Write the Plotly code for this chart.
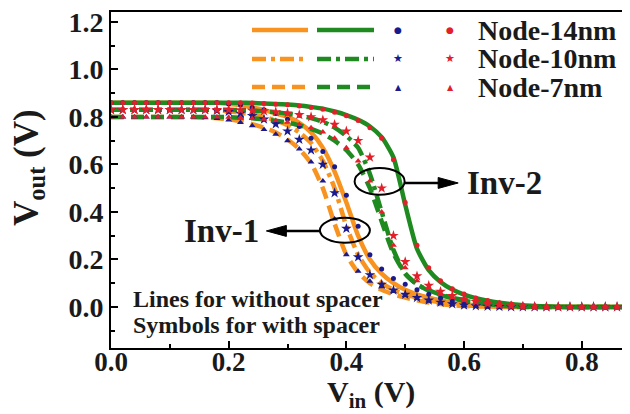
import plotly.graph_objects as go

# ---------------- data ----------------
VIN = [0.00, 0.02, 0.04, 0.06, 0.08, 0.10, 0.12, 0.14, 0.16, 0.18,
       0.20, 0.22, 0.24, 0.26, 0.28, 0.30, 0.32, 0.34, 0.36, 0.38,
       0.40, 0.42, 0.44, 0.46, 0.48, 0.50, 0.52, 0.54, 0.56, 0.58,
       0.60, 0.62, 0.64, 0.66, 0.68, 0.70, 0.72, 0.74, 0.76, 0.78,
       0.80, 0.82, 0.84, 0.86, 0.88]

# Inv-1, lines (without spacer)
inv1_14nm_line = [0.86, 0.86, 0.86, 0.86, 0.86, 0.86, 0.86, 0.86, 0.86, 0.86,
                  0.855, 0.85, 0.84, 0.83, 0.815, 0.80, 0.775, 0.735, 0.67, 0.57,
                  0.44, 0.30, 0.20, 0.14, 0.10, 0.072, 0.053, 0.039, 0.028, 0.019,
                  0.012, 0.007, 0.004, 0.002, 0.001, 0, 0, 0, 0, 0,
                  0, 0, 0, 0, 0]
inv1_10nm_line = [0.83, 0.83, 0.83, 0.83, 0.83, 0.83, 0.83, 0.83, 0.83, 0.828,
                  0.824, 0.818, 0.81, 0.80, 0.785, 0.765, 0.735, 0.69, 0.615, 0.50,
                  0.34, 0.22, 0.145, 0.10, 0.072, 0.053, 0.039, 0.028, 0.019, 0.012,
                  0.007, 0.004, 0.002, 0.001, 0, 0, 0, 0, 0, 0,
                  0, 0, 0, 0, 0]
inv1_7nm_line = [0.80, 0.80, 0.80, 0.80, 0.80, 0.80, 0.80, 0.80, 0.798, 0.795,
                 0.79, 0.782, 0.77, 0.755, 0.735, 0.705, 0.665, 0.605, 0.50, 0.35,
                 0.22, 0.145, 0.10, 0.072, 0.053, 0.039, 0.028, 0.019, 0.012, 0.007,
                 0.004, 0.002, 0.001, 0, 0, 0, 0, 0, 0, 0,
                 0, 0, 0, 0, 0]
# Inv-1, symbols (with spacer)
inv1_14nm_sym = [0.86, 0.86, 0.86, 0.86, 0.86, 0.86, 0.86, 0.86, 0.86, 0.86,
                 0.855, 0.85, 0.84, 0.83, 0.815, 0.79, 0.76, 0.71, 0.655, 0.59,
                 0.47, 0.34, 0.22, 0.16, 0.12, 0.095, 0.072, 0.053, 0.037, 0.025,
                 0.016, 0.009, 0.005, 0.002, 0.001, 0, 0, 0, 0, 0,
                 0, 0, 0, 0, 0]
inv1_10nm_sym = [0.83, 0.83, 0.83, 0.83, 0.83, 0.83, 0.83, 0.83, 0.83, 0.827,
                 0.822, 0.815, 0.805, 0.79, 0.77, 0.74, 0.705, 0.66, 0.60, 0.48,
                 0.33, 0.21, 0.135, 0.095, 0.07, 0.052, 0.039, 0.028, 0.019, 0.012,
                 0.007, 0.004, 0.002, 0.001, 0, 0, 0, 0, 0, 0,
                 0, 0, 0, 0, 0]
inv1_7nm_sym = [0.80, 0.80, 0.80, 0.80, 0.80, 0.80, 0.80, 0.80, 0.797, 0.793,
                0.787, 0.777, 0.763, 0.747, 0.727, 0.70, 0.665, 0.61, 0.53, 0.37,
                0.22, 0.15, 0.108, 0.085, 0.065, 0.048, 0.035, 0.025, 0.017, 0.011,
                0.006, 0.003, 0.001, 0, 0, 0, 0, 0, 0, 0,
                0, 0, 0, 0, 0]
# Inv-2, lines (without spacer)
inv2_14nm_line = [0.86, 0.86, 0.86, 0.86, 0.86, 0.86, 0.86, 0.86, 0.86, 0.86,
                  0.86, 0.86, 0.859, 0.857, 0.855, 0.852, 0.848, 0.842, 0.835, 0.823,
                  0.808, 0.788, 0.76, 0.715, 0.63, 0.43, 0.245, 0.155, 0.105, 0.073,
                  0.052, 0.037, 0.026, 0.018, 0.012, 0.007, 0.004, 0.002, 0.001, 0,
                  0, 0, 0, 0, 0]
inv2_10nm_line = [0.83, 0.83, 0.83, 0.83, 0.83, 0.83, 0.83, 0.83, 0.83, 0.83,
                  0.83, 0.829, 0.827, 0.824, 0.82, 0.814, 0.806, 0.795, 0.78, 0.755,
                  0.72, 0.67, 0.56, 0.40, 0.24, 0.14, 0.095, 0.07, 0.052, 0.039,
                  0.028, 0.019, 0.012, 0.007, 0.004, 0.002, 0.001, 0, 0, 0,
                  0, 0, 0, 0, 0]
inv2_7nm_line = [0.80, 0.80, 0.80, 0.80, 0.80, 0.80, 0.80, 0.80, 0.80, 0.80,
                 0.799, 0.797, 0.794, 0.79, 0.784, 0.776, 0.765, 0.75, 0.73, 0.70,
                 0.66, 0.60, 0.50, 0.36, 0.225, 0.14, 0.095, 0.068, 0.05, 0.037,
                 0.026, 0.018, 0.011, 0.006, 0.003, 0.001, 0, 0, 0, 0,
                 0, 0, 0, 0, 0]
# Inv-2, symbols (with spacer)
inv2_14nm_sym = [0.86, 0.86, 0.86, 0.86, 0.86, 0.86, 0.86, 0.86, 0.86, 0.86,
                 0.86, 0.86, 0.859, 0.857, 0.854, 0.851, 0.846, 0.84, 0.832, 0.82,
                 0.805, 0.785, 0.755, 0.71, 0.62, 0.44, 0.26, 0.165, 0.11, 0.076,
                 0.054, 0.038, 0.027, 0.018, 0.012, 0.007, 0.004, 0.002, 0.001, 0,
                 0, 0, 0, 0, 0]
inv2_10nm_sym = [0.83, 0.83, 0.83, 0.83, 0.83, 0.83, 0.83, 0.83, 0.83, 0.83,
                 0.83, 0.829, 0.827, 0.825, 0.821, 0.816, 0.809, 0.80, 0.787, 0.768,
                 0.74, 0.70, 0.63, 0.50, 0.30, 0.19, 0.13, 0.09, 0.065, 0.047,
                 0.033, 0.022, 0.014, 0.008, 0.004, 0.002, 0.001, 0, 0, 0,
                 0, 0, 0, 0, 0]
inv2_7nm_sym = [0.80, 0.80, 0.80, 0.80, 0.80, 0.80, 0.80, 0.80, 0.80, 0.80,
                0.799, 0.797, 0.794, 0.79, 0.785, 0.778, 0.768, 0.755, 0.737, 0.71,
                0.67, 0.615, 0.53, 0.40, 0.26, 0.165, 0.11, 0.078, 0.056, 0.04,
                0.028, 0.019, 0.012, 0.007, 0.003, 0.001, 0, 0, 0, 0,
                0, 0, 0, 0, 0]

NODES = ["Node-14nm", "Node-10nm", "Node-7nm"]
X_TICKS = [0.0, 0.2, 0.4, 0.6, 0.8]
Y_TICKS = [0.0, 0.2, 0.4, 0.6, 0.8, 1.0, 1.2]

# ---------------- style ----------------
ORANGE = "#f7931e"
GREEN = "#1f8a1f"
BLUE = "#1a1a8c"
RED = "#e3202a"
INK = "#1a1a1a"
FONT = "Liberation Serif, Times New Roman, serif"
DASHES = {"solid": "solid", "dashdot": "14px,5px,4px,5px", "dash": "13px,7px"}
LW = 4.5

fig = go.Figure()

line_sets = [
    (inv1_14nm_line, ORANGE, "solid"), (inv1_10nm_line, ORANGE, "dashdot"), (inv1_7nm_line, ORANGE, "dash"),
    (inv2_14nm_line, GREEN, "solid"), (inv2_10nm_line, GREEN, "dashdot"), (inv2_7nm_line, GREEN, "dash"),
]
for ys, col, d in line_sets:
    fig.add_trace(go.Scatter(x=VIN, y=ys, mode="lines",
                             line=dict(color=col, width=LW, dash=DASHES[d], shape="spline", smoothing=0.6),
                             showlegend=False, hoverinfo="skip"))

sym_sets = [
    (inv1_14nm_sym, BLUE, "circle", 5), (inv1_10nm_sym, BLUE, "star", 8), (inv1_7nm_sym, BLUE, "triangle-up", 6),
    (inv2_14nm_sym, RED, "circle", 5), (inv2_10nm_sym, RED, "star", 8), (inv2_7nm_sym, RED, "triangle-up", 6),
]
for ys, col, sym, sz in sym_sets:
    fig.add_trace(go.Scatter(x=VIN, y=ys, mode="markers",
                             marker=dict(color=col, symbol=sym, size=sz, line=dict(width=0)),
                             showlegend=False, hoverinfo="skip"))

shapes = []
annotations = []

# The page body has an 8px margin; the figure is sized to fill the rest of the window.
OFF = 8
FW, FH = 630 - OFF, 414 - OFF
# plot-area edges in window pixels
PL, PT, PR, PB = 111, 12, 630, 348

def px(x):
    return (x - PL) / (PR - PL)
def py(y):
    return (PB - y) / (PB - PT)

# custom legend
rows_y = [30, 59, 87]
dash_keys = ["solid", "dashdot", "dash"]
leg_syms = ["●", "★", "▲"]
leg_sizes = [9, 11, 8]
for i, name in enumerate(NODES):
    yy = py(rows_y[i])
    for (xa, xb, col) in [(252, 308, ORANGE), (317, 374, GREEN)]:
        shapes.append(dict(type="line", xref="paper", yref="paper", x0=px(xa), x1=px(xb), y0=yy, y1=yy,
                           line=dict(color=col, width=LW, dash=DASHES[dash_keys[i]])))
    for xc, col in [(398, BLUE), (450, RED)]:
        annotations.append(dict(x=px(xc), y=yy, xref="paper", yref="paper", text=leg_syms[i], showarrow=False,
                                font=dict(color=col, size=leg_sizes[i], family="DejaVu Sans"),
                                xanchor="center", yanchor="middle"))
    annotations.append(dict(x=px(476), y=yy, xref="paper", yref="paper", text="<b>%s</b>" % name,
                            showarrow=False, font=dict(size=28, color=INK, family=FONT),
                            xanchor="left", yanchor="middle"))

# ellipses
shapes.append(dict(type="circle", xref="x", yref="y", x0=0.414, x1=0.499, y0=0.472, y1=0.585,
                   line=dict(color="black", width=2)))
shapes.append(dict(type="circle", xref="x", yref="y", x0=0.355, x1=0.440, y0=0.270, y1=0.375,
                   line=dict(color="black", width=2)))
# arrows (shaft + head)
shapes.append(dict(type="line", xref="x", yref="y", x0=0.499, x1=0.560, y0=0.522, y1=0.522,
                   line=dict(color="black", width=2.5)))
shapes.append(dict(type="path", xref="x", yref="y", path="M 0.556 0.545 L 0.590 0.522 L 0.556 0.499 Z",
                   fillcolor="black", line=dict(color="black", width=1)))
shapes.append(dict(type="line", xref="x", yref="y", x0=0.355, x1=0.294, y0=0.32, y1=0.32,
                   line=dict(color="black", width=2.5)))
shapes.append(dict(type="path", xref="x", yref="y", path="M 0.298 0.343 L 0.264 0.32 L 0.298 0.297 Z",
                   fillcolor="black", line=dict(color="black", width=1)))

annotations.append(dict(x=0.668, y=0.522, xref="x", yref="y", text="<b>Inv-2</b>", showarrow=False,
                        font=dict(size=33, color=INK, family=FONT), xanchor="center", yanchor="middle"))
annotations.append(dict(x=0.187, y=0.32, xref="x", yref="y", text="<b>Inv-1</b>", showarrow=False,
                        font=dict(size=33, color=INK, family=FONT), xanchor="center", yanchor="middle"))
annotations.append(dict(x=px(131), y=py(299), xref="paper", yref="paper", text="<b>Lines for without spacer</b>",
                        showarrow=False, font=dict(size=24, color=INK, family=FONT), xanchor="left", yanchor="middle"))
annotations.append(dict(x=px(131), y=py(325), xref="paper", yref="paper", text="<b>Symbols for with spacer</b>",
                        showarrow=False, font=dict(size=24, color=INK, family=FONT), xanchor="left", yanchor="middle"))
# axis titles
annotations.append(dict(x=px(371), y=py(394), xref="paper", yref="paper", text="<b>V<sub>in</sub> (V)</b>",
                        showarrow=False, font=dict(size=30, color=INK, family=FONT), xanchor="center", yanchor="middle"))
annotations.append(dict(x=px(28), y=py(168), xref="paper", yref="paper", text="<b>V<sub>out</sub> (V)</b>",
                        showarrow=False, textangle=-90, font=dict(size=35, color=INK, family=FONT),
                        xanchor="center", yanchor="middle"))

fig.update_layout(
    width=FW, height=FH,
    margin=dict(l=PL - OFF, r=0, t=PT - OFF, b=FH - (PB - OFF), autoexpand=False),
    paper_bgcolor="white", plot_bgcolor="white",
    font=dict(family=FONT, color=INK),
    shapes=shapes, annotations=annotations,
    showlegend=False,
)
fig.update_xaxes(range=[0, 0.882], showgrid=False, zeroline=False, automargin=False,
                 showline=True, linecolor="black", linewidth=2, mirror=True,
                 ticks="inside", ticklen=7, tickwidth=2, tickcolor="black",
                 tickvals=X_TICKS, ticktext=["<b>%.1f</b>" % v for v in X_TICKS],
                 tickfont=dict(size=27, family=FONT, color=INK), ticklabelstandoff=-11,
                 ticklabeloverflow="allow",
                 minor=dict(ticks="inside", ticklen=4, tickwidth=2, tickcolor="black", dtick=0.1))
fig.update_yaxes(range=[-0.173, 1.242], showgrid=False, zeroline=False, automargin=False,
                 showline=True, linecolor="black", linewidth=2, mirror=False,
                 ticks="inside", ticklen=7, tickwidth=2, tickcolor="black",
                 tickvals=Y_TICKS, ticktext=["<b>%.1f</b>" % v for v in Y_TICKS],
                 tickfont=dict(size=28, family=FONT, color=INK), ticklabeloverflow="allow",
                 minor=dict(ticks="inside", ticklen=4, tickwidth=2, tickcolor="black", dtick=0.1))

fig.write_html("out.html")
